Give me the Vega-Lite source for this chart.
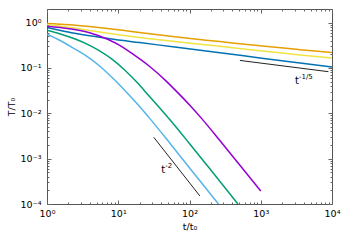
{
  "$schema": "https://vega.github.io/schema/vega-lite/v6.json",
  "width": 285,
  "height": 195,
  "autosize": {"type": "none"},
  "padding": {"left": 47, "top": 9, "right": 18, "bottom": 41},
  "datasets": {
    "curves": [
      {"series": "O", "t": 1, "T": 0.96},
      {"series": "O", "t": 2.073, "T": 0.903},
      {"series": "O", "t": 3.961, "T": 0.823},
      {"series": "O", "t": 7.568, "T": 0.736},
      {"series": "O", "t": 14.47, "T": 0.647},
      {"series": "O", "t": 27.65, "T": 0.569},
      {"series": "O", "t": 62.13, "T": 0.488},
      {"series": "O", "t": 266.8, "T": 0.382},
      {"series": "O", "t": 974.3, "T": 0.308},
      {"series": "O", "t": 3558, "T": 0.254},
      {"series": "O", "t": 10000, "T": 0.219},
      {"series": "Y", "t": 1, "T": 0.894},
      {"series": "Y", "t": 2.073, "T": 0.782},
      {"series": "Y", "t": 3.961, "T": 0.671},
      {"series": "Y", "t": 7.568, "T": 0.575},
      {"series": "Y", "t": 14.47, "T": 0.501},
      {"series": "Y", "t": 27.65, "T": 0.441},
      {"series": "Y", "t": 62.13, "T": 0.384},
      {"series": "Y", "t": 266.8, "T": 0.3},
      {"series": "Y", "t": 974.3, "T": 0.2386},
      {"series": "Y", "t": 3558, "T": 0.1945},
      {"series": "Y", "t": 10000, "T": 0.165},
      {"series": "B", "t": 1, "T": 0.782},
      {"series": "B", "t": 1.499, "T": 0.681},
      {"series": "B", "t": 2.436, "T": 0.584},
      {"series": "B", "t": 3.961, "T": 0.512},
      {"series": "B", "t": 7.568, "T": 0.441},
      {"series": "B", "t": 20.0, "T": 0.363},
      {"series": "B", "t": 62.13, "T": 0.29},
      {"series": "B", "t": 266.8, "T": 0.2166},
      {"series": "B", "t": 974.3, "T": 0.1668},
      {"series": "B", "t": 3558, "T": 0.1285},
      {"series": "B", "t": 10000, "T": 0.1052},
      {"series": "P", "t": 1, "T": 0.836},
      {"series": "P", "t": 2.073, "T": 0.736},
      {"series": "P", "t": 3.961, "T": 0.6},
      {"series": "P", "t": 7.096, "T": 0.43},
      {"series": "P", "t": 10.47, "T": 0.316},
      {"series": "P", "t": 15.9, "T": 0.2048},
      {"series": "P", "t": 27.65, "T": 0.108},
      {"series": "P", "t": 47.94, "T": 0.0501},
      {"series": "P", "t": 62.13, "T": 0.0333},
      {"series": "P", "t": 101, "T": 0.01506},
      {"series": "P", "t": 147.5, "T": 0.00774},
      {"series": "P", "t": 266.8, "T": 0.00251},
      {"series": "P", "t": 510, "T": 0.000717},
      {"series": "P", "t": 1000, "T": 0.000194},
      {"series": "G", "t": 1, "T": 0.681},
      {"series": "G", "t": 1.499, "T": 0.569},
      {"series": "G", "t": 2.436, "T": 0.441},
      {"series": "G", "t": 3.961, "T": 0.316},
      {"series": "G", "t": 5.474, "T": 0.2386},
      {"series": "G", "t": 8.075, "T": 0.1585},
      {"series": "G", "t": 12.3, "T": 0.0903},
      {"series": "G", "t": 18.15, "T": 0.0489},
      {"series": "G", "t": 27.65, "T": 0.02326},
      {"series": "G", "t": 40.77, "T": 0.01166},
      {"series": "G", "t": 62.13, "T": 0.00541},
      {"series": "G", "t": 101, "T": 0.0021},
      {"series": "G", "t": 193, "T": 0.0005995},
      {"series": "G", "t": 477.9, "T": 0.0001},
      {"series": "L", "t": 1, "T": 0.555},
      {"series": "L", "t": 1.499, "T": 0.4085},
      {"series": "L", "t": 2.436, "T": 0.2644},
      {"series": "L", "t": 3.712, "T": 0.1756},
      {"series": "L", "t": 5.474, "T": 0.1108},
      {"series": "L", "t": 8.075, "T": 0.0631},
      {"series": "L", "t": 12.3, "T": 0.0324},
      {"series": "L", "t": 18.15, "T": 0.01668},
      {"series": "L", "t": 27.65, "T": 0.00774},
      {"series": "L", "t": 52.84, "T": 0.002211},
      {"series": "L", "t": 101, "T": 0.000615},
      {"series": "L", "t": 255, "T": 0.0001}
    ],
    "slopes": [
      {"seg": "a", "t": 31.5, "T": 0.00296},
      {"seg": "a", "t": 139.6, "T": 0.000151},
      {"seg": "b", "t": 510, "T": 0.1468},
      {"seg": "b", "t": 8895, "T": 0.0829}
    ],
    "notes": [
      {"t": 40.1, "T": 0.000476, "base": "t", "sup": "-2"},
      {"t": 3027, "T": 0.0441, "base": "t", "sup": "-1/5"}
    ]
  },
  "layer": [
    {
      "data": {"name": "curves"},
      "mark": {"type": "line", "strokeWidth": 1.5, "interpolate": "monotone", "clip": true},
      "encoding": {
        "x": {
          "field": "t", "type": "quantitative",
          "scale": {"type": "log", "domain": [1, 10000], "nice": false},
          "axis": {
            "orient": "bottom", "title": "t/t₀",
            "values": [1,2,3,4,5,6,7,8,9,10,20,30,40,50,60,70,80,90,100,200,300,400,500,600,700,800,900,1000,2000,3000,4000,5000,6000,7000,8000,9000,10000],
            "labelExpr": "datum.value==1?'10⁰':datum.value==10?'10¹':datum.value==100?'10²':datum.value==1000?'10³':datum.value==10000?'10⁴':''",
            "tickSize": {"condition": {"test": "datum.value==1||datum.value==10||datum.value==100||datum.value==1000||datum.value==10000", "value": -4}, "value": -2},
            "labelPadding": 8
          }
        },
        "y": {
          "field": "T", "type": "quantitative",
          "scale": {"type": "log", "domain": [0.0001, 2], "nice": false},
          "axis": {
            "orient": "left", "title": "T/T₀",
            "values": [0.0001,0.0002,0.0003,0.0004,0.0005,0.0006,0.0007,0.0008,0.0009,0.001,0.002,0.003,0.004,0.005,0.006,0.007,0.008,0.009,0.01,0.02,0.03,0.04,0.05,0.06,0.07,0.08,0.09,0.1,0.2,0.3,0.4,0.5,0.6,0.7,0.8,0.9,1,2],
            "labelExpr": "datum.value==1?'10⁰':datum.value==0.1?'10⁻¹':datum.value==0.01?'10⁻²':datum.value==0.001?'10⁻³':datum.value==0.0001?'10⁻⁴':''",
            "tickSize": {"condition": {"test": "datum.value==1||datum.value==0.1||datum.value==0.01||datum.value==0.001||datum.value==0.0001", "value": -4}, "value": -2},
            "labelPadding": 10
          }
        },
        "color": {
          "field": "series", "type": "nominal",
          "scale": {"domain": ["O", "Y", "B", "P", "G", "L"], "range": ["#E69F00", "#F0E442", "#0072B2", "#9400D3", "#009E73", "#56B4E9"]},
          "legend": null
        }
      }
    },
    {
      "data": {"name": "slopes"},
      "mark": {"type": "line", "strokeWidth": 1, "color": "#222"},
      "encoding": {
        "x": {
          "field": "t", "type": "quantitative",
          "axis": {
            "orient": "top", "title": null, "labels": false,
            "values": [1,2,3,4,5,6,7,8,9,10,20,30,40,50,60,70,80,90,100,200,300,400,500,600,700,800,900,1000,2000,3000,4000,5000,6000,7000,8000,9000,10000],
            "tickSize": {"condition": {"test": "datum.value==1||datum.value==10||datum.value==100||datum.value==1000||datum.value==10000", "value": -4}, "value": -2}
          }
        },
        "y": {
          "field": "T", "type": "quantitative",
          "axis": {
            "orient": "right", "title": null, "labels": false,
            "values": [0.0001,0.0002,0.0003,0.0004,0.0005,0.0006,0.0007,0.0008,0.0009,0.001,0.002,0.003,0.004,0.005,0.006,0.007,0.008,0.009,0.01,0.02,0.03,0.04,0.05,0.06,0.07,0.08,0.09,0.1,0.2,0.3,0.4,0.5,0.6,0.7,0.8,0.9,1,2],
            "tickSize": {"condition": {"test": "datum.value==1||datum.value==0.1||datum.value==0.01||datum.value==0.001||datum.value==0.0001", "value": -4}, "value": -2}
          }
        },
        "detail": {"field": "seg", "type": "nominal"}
      }
    },
    {
      "data": {"name": "notes"},
      "mark": {"type": "text", "align": "left", "baseline": "alphabetic", "fontSize": 10, "font": "DejaVu Sans", "color": "#000"},
      "encoding": {
        "x": {"field": "t", "type": "quantitative", "axis": null},
        "y": {"field": "T", "type": "quantitative", "axis": null},
        "text": {"field": "base"}
      }
    },
    {
      "data": {"name": "notes"},
      "mark": {"type": "text", "align": "left", "baseline": "alphabetic", "fontSize": 7, "font": "DejaVu Sans", "color": "#000", "dx": 4, "dy": -5},
      "encoding": {
        "x": {"field": "t", "type": "quantitative", "axis": null},
        "y": {"field": "T", "type": "quantitative", "axis": null},
        "text": {"field": "sup"}
      }
    }
  ],
  "resolve": {"axis": {"x": "independent", "y": "independent"}},
  "config": {
    "view": {"stroke": "#555", "strokeWidth": 1},
    "font": "DejaVu Sans",
    "axis": {
      "domain": false,
      "grid": false,
      "tickColor": "#666",
      "tickWidth": 1,
      "labelColor": "#000",
      "labelFont": "DejaVu Sans",
      "labelFontSize": 9.5,
      "labelOverlap": false,
      "labelFlush": false,
      "titleFont": "DejaVu Sans",
      "titleFontSize": 9.5,
      "titleFontWeight": "normal",
      "titleColor": "#000"
    },
    "axisX": {"titlePadding": 2},
    "axisY": {"titlePadding": 4}
  }
}
